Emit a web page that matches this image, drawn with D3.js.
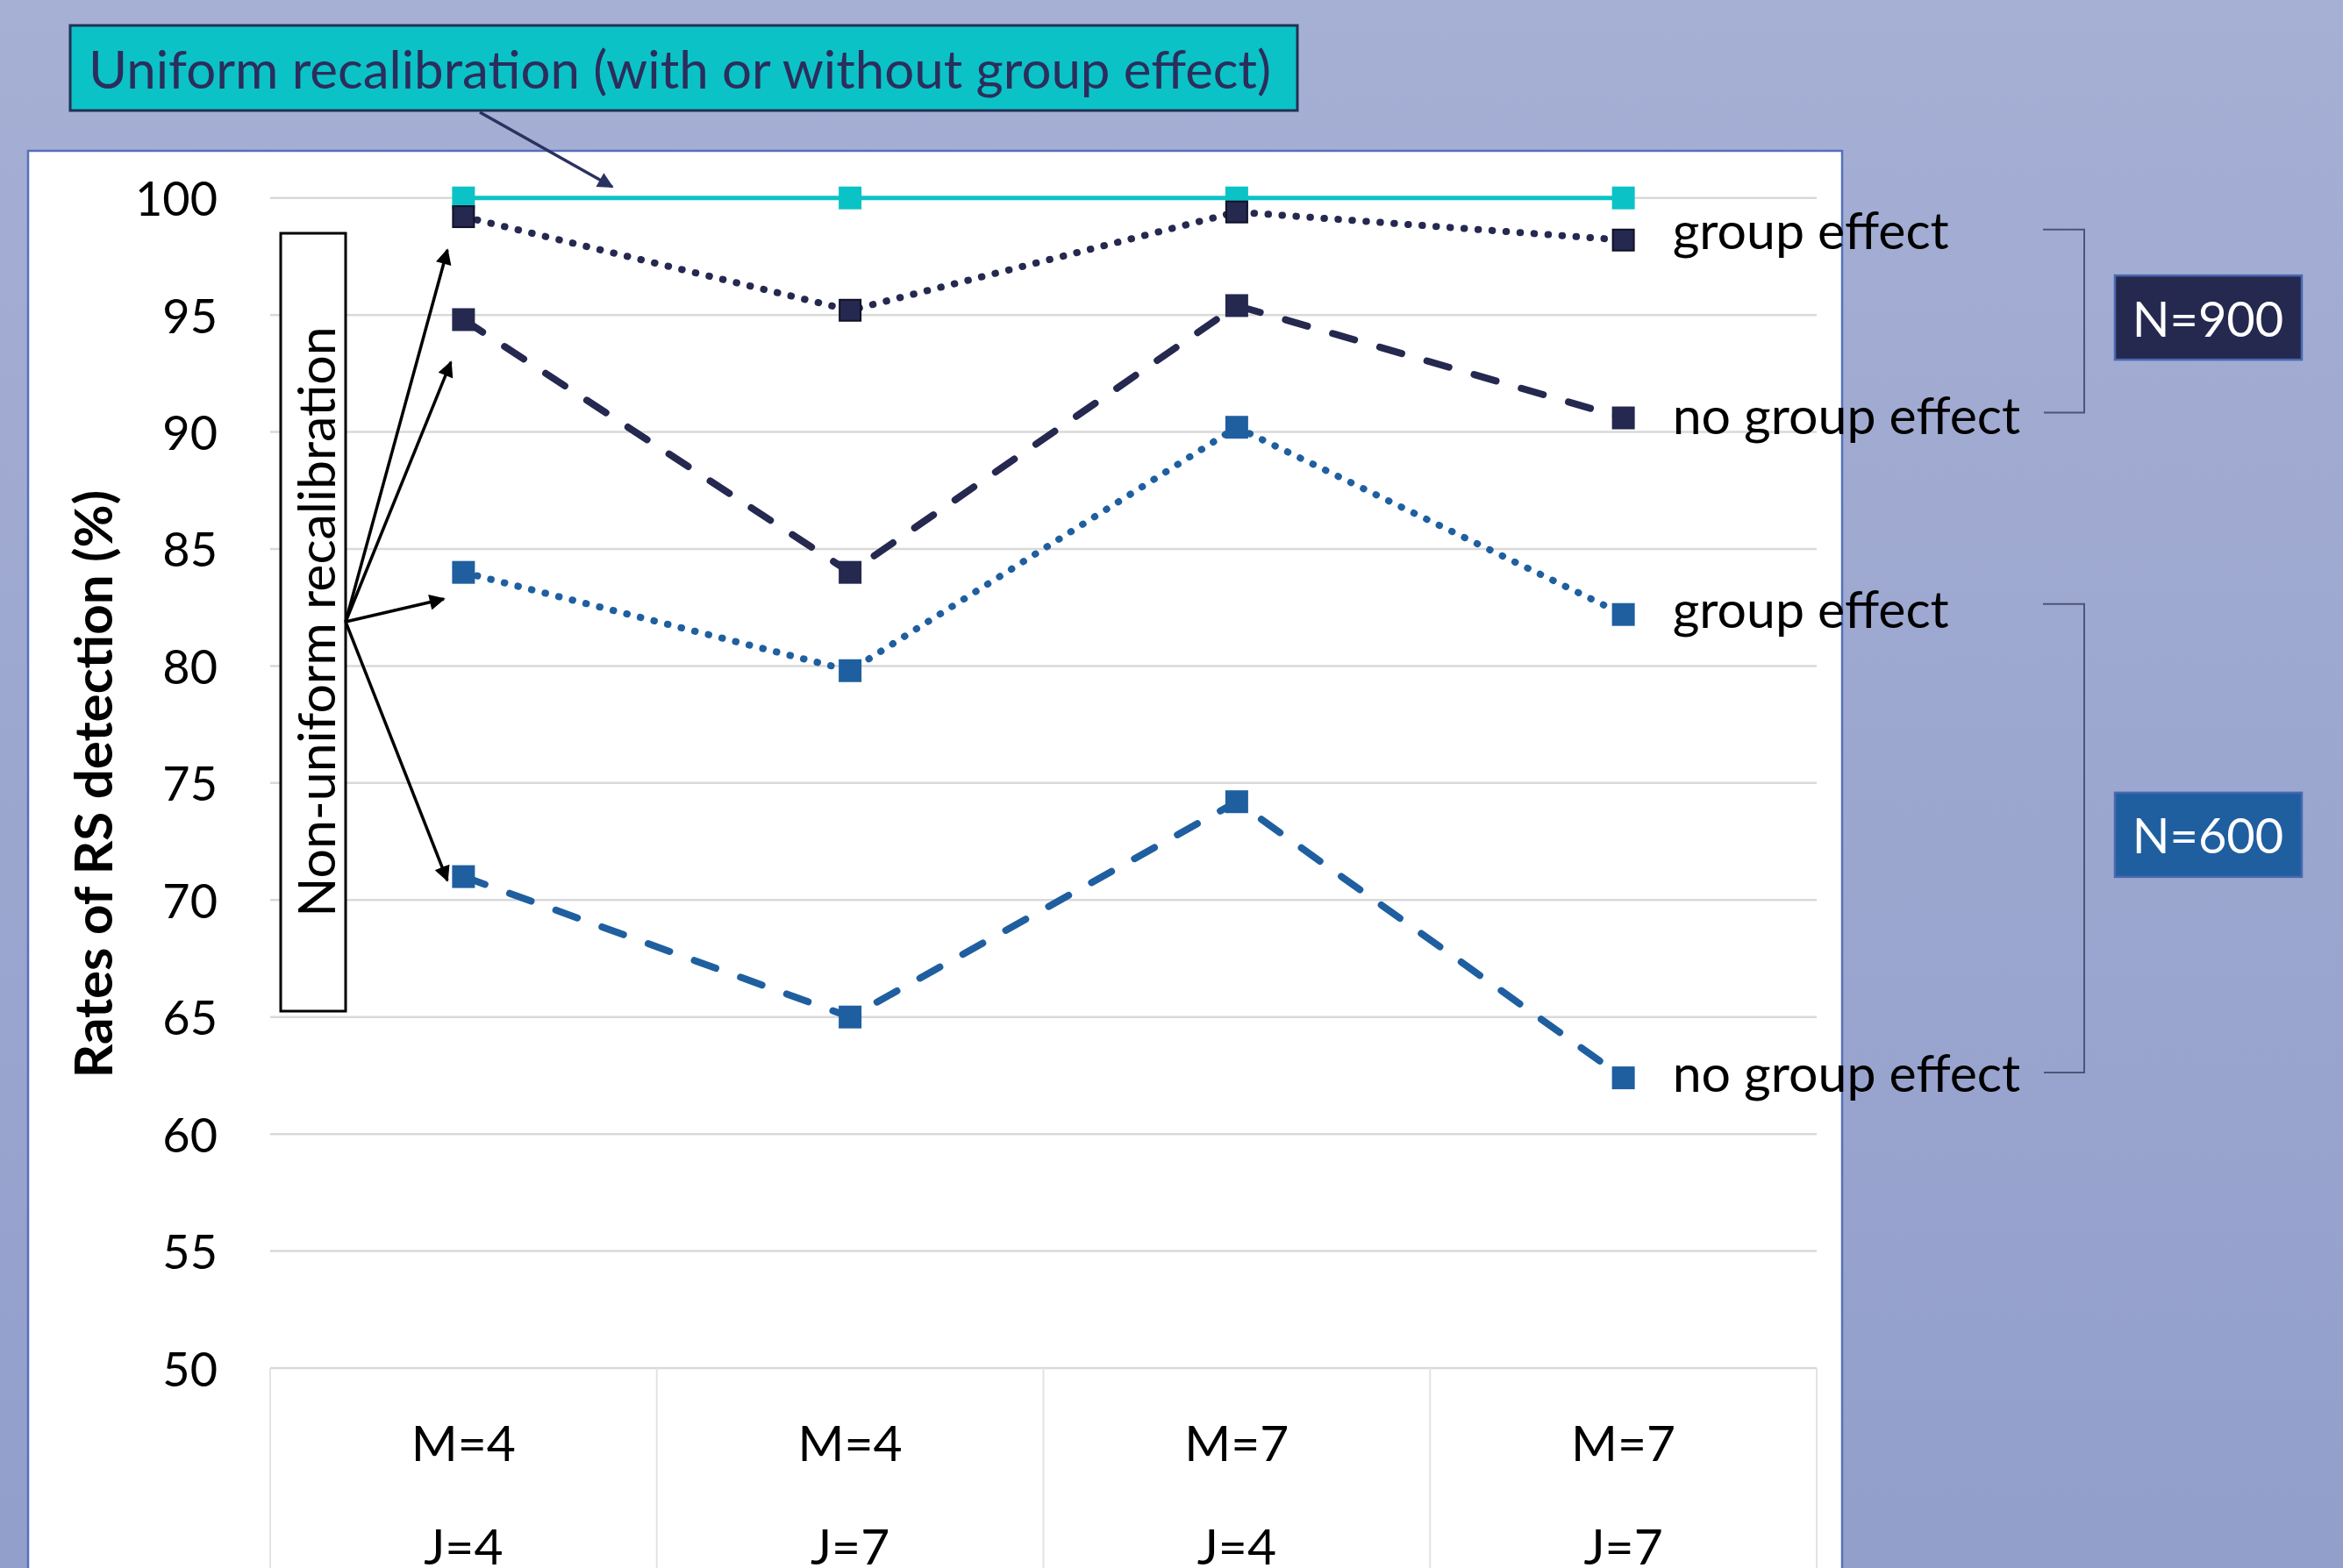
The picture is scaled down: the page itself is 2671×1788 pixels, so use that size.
<!DOCTYPE html>
<html lang="en">
  <head>
    <meta charset="utf-8">
    <title>Rates of RS detection</title>
    <script type="text/javascript" src="https://d3js.org/d3.v7.min.js"></script>
    <style>
      body {
        margin: 0;
        font-family: 'Lato', 'Open Sans', sans-serif;
      }
      .grid-line {
        stroke: #d9d9d9;
        stroke-width: 2.5;
      }
      .cat-line {
        stroke: #e3e3e3;
        stroke-width: 2;
      }
      .tick-label,
      .cat-label,
      .series-label {
        fill: #000000;
      }
    </style>
  </head>
  <body>
    <div id="chart"></div>
    <script type="text/javascript">

      // data
      var catM = ['M=4', 'M=4', 'M=7', 'M=7'];
      var catJ = ['J=4', 'J=7', 'J=4', 'J=7'];
      var yTicks = [50, 55, 60, 65, 70, 75, 80, 85, 90, 95, 100];

      var uniform     = [100, 100, 100, 100];
      var n900Group   = [99.2, 95.2, 99.4, 98.2];
      var n900NoGroup = [94.8, 84.0, 95.4, 90.6];
      var n600Group   = [84.0, 79.8, 90.2, 82.2];
      var n600NoGroup = [71.0, 65.0, 74.2, 62.4];

      var seriesLabels = ['', 'group effect', 'no group effect', 'group effect', 'no group effect'];

      var w = 2671;
      var h = 1788;

      var navy = '#25284f';
      var blue = '#1f5fa0';
      var cyan = '#0bc3c7';

      var svg = d3.select('#chart')
        .append('svg')
          .attr('width', w)
          .attr('height', h);

      var defs = svg.append('defs');

      // slide background gradient
      var grad = defs.append('linearGradient')
        .attr('id', 'bg-grad')
        .attr('x1', 0).attr('y1', 0)
        .attr('x2', 0).attr('y2', 1);
      grad.append('stop').attr('offset', '0%').attr('stop-color', '#a6afd4');
      grad.append('stop').attr('offset', '100%').attr('stop-color', '#929fcb');

      // arrowheads
      function arrowHead(id, color) {
        defs.append('marker')
          .attr('id', id)
          .attr('viewBox', '0 0 10 10')
          .attr('refX', 9)
          .attr('refY', 5)
          .attr('markerUnits', 'userSpaceOnUse')
          .attr('markerWidth', 22)
          .attr('markerHeight', 18)
          .attr('orient', 'auto')
          .append('path')
            .attr('d', 'M0,0 L10,5 L0,10 Z')
            .attr('fill', color);
      }
      arrowHead('arrow-black', '#000000');
      arrowHead('arrow-navy', '#2a3260');

      svg.append('rect')
        .attr('width', w)
        .attr('height', h)
        .attr('fill', 'url(#bg-grad)');

      // white chart panel
      svg.append('rect')
        .attr('x', 32)
        .attr('y', 172)
        .attr('width', 2068)
        .attr('height', 1640)
        .attr('fill', '#ffffff')
        .attr('stroke', '#5571bb')
        .attr('stroke-width', 2.5);

      // scales
      var x = d3.scaleBand()
        .domain(d3.range(catM.length))
        .range([308, 2071]);

      var y = d3.scaleLinear()
        .domain([50, 100])
        .range([1560, 225.7]);

      function cx(i) { return x(i) + x.bandwidth() / 2; }

      // gridlines
      svg.append('g')
        .selectAll('line')
        .data(yTicks)
        .enter()
        .append('line')
          .attr('class', 'grid-line')
          .attr('x1', 308)
          .attr('x2', 2071)
          .attr('y1', function(d) { return y(d); })
          .attr('y2', function(d) { return y(d); });

      // y tick labels
      svg.append('g')
        .selectAll('text')
        .data(yTicks)
        .enter()
        .append('text')
          .attr('class', 'tick-label')
          .attr('x', 248)
          .attr('y', function(d) { return y(d); })
          .attr('text-anchor', 'end')
          .attr('dominant-baseline', 'central')
          .style('font-size', '54px')
          .text(function(d) { return d; });

      // category separators and labels
      var catEdges = d3.range(catM.length + 1);
      svg.append('g')
        .selectAll('line')
        .data(catEdges)
        .enter()
        .append('line')
          .attr('class', 'cat-line')
          .attr('x1', function(d) { return d < catM.length ? x(d) : x(d - 1) + x.bandwidth(); })
          .attr('x2', function(d) { return d < catM.length ? x(d) : x(d - 1) + x.bandwidth(); })
          .attr('y1', y(50))
          .attr('y2', h);

      var catG = svg.append('g');
      catG.selectAll('.cat-m')
        .data(catM)
        .enter()
        .append('text')
          .attr('class', 'cat-label cat-m')
          .attr('x', function(d, i) { return cx(i); })
          .attr('y', 1644)
          .attr('text-anchor', 'middle')
          .attr('dominant-baseline', 'central')
          .style('font-size', '57px')
          .text(function(d) { return d; });
      catG.selectAll('.cat-j')
        .data(catJ)
        .enter()
        .append('text')
          .attr('class', 'cat-label cat-j')
          .attr('x', function(d, i) { return cx(i); })
          .attr('y', 1762)
          .attr('text-anchor', 'middle')
          .attr('dominant-baseline', 'central')
          .style('font-size', '57px')
          .text(function(d) { return d; });

      // y axis title
      svg.append('text')
        .attr('transform', 'translate(128,894) rotate(-90)')
        .attr('text-anchor', 'middle')
        .style('font-size', '60px')
        .style('font-weight', 'bold')
        .text('Rates of RS detection (%)');

      // series (labelDy = vertical nudge of the end label)
      var series = [
        { name: 'uniform',     values: uniform,     color: cyan, dash: null,       stroke: cyan,      labelDy: 0 },
        { name: 'n900Group',   values: n900Group,   color: navy, dash: '0.5 15.5', stroke: '#111126', labelDy: -12 },
        { name: 'n900NoGroup', values: n900NoGroup, color: navy, dash: '26 30',    stroke: navy,      labelDy: -4 },
        { name: 'n600Group',   values: n600Group,   color: blue, dash: '0.5 15.5', stroke: blue,      labelDy: -7 },
        { name: 'n600NoGroup', values: n600NoGroup, color: blue, dash: '26 30',    stroke: blue,      labelDy: -7 }
      ];

      var line = d3.line()
        .x(function(d, i) { return cx(i); })
        .y(function(d) { return y(d); });

      var seriesG = svg.append('g');

      series.forEach(function(s, k) {
        seriesG.append('path')
          .datum(s.values)
          .attr('d', line)
          .attr('fill', 'none')
          .attr('stroke', s.color)
          .attr('stroke-width', s.dash ? 8 : 5)
          .attr('stroke-linecap', s.dash ? 'round' : 'butt')
          .attr('stroke-dasharray', s.dash);

        seriesG.selectAll('.marker-' + s.name)
          .data(s.values)
          .enter()
          .append('rect')
            .attr('class', 'marker-' + s.name)
            .attr('x', function(d, i) { return cx(i) - 12; })
            .attr('y', function(d) { return y(d) - 12; })
            .attr('width', 24)
            .attr('height', 24)
            .attr('fill', s.color)
            .attr('stroke', s.stroke)
            .attr('stroke-width', 2);

        if (seriesLabels[k]) {
          seriesG.append('text')
            .attr('class', 'series-label')
            .attr('x', cx(s.values.length - 1) + 56)
            .attr('y', y(s.values[s.values.length - 1]) + s.labelDy)
            .attr('dominant-baseline', 'central')
            .style('font-size', '59px')
            .text(seriesLabels[k]);
        }
      });

      // brackets and N boxes
      var groups = [
        { label: 'N=900', top: n900Group,  bottom: n900NoGroup, fill: navy },
        { label: 'N=600', top: n600Group,  bottom: n600NoGroup, fill: blue }
      ];

      groups.forEach(function(g) {
        var y1 = y(g.top[g.top.length - 1]) - 12;
        var y2 = y(g.bottom[g.bottom.length - 1]) - 6;
        svg.append('path')
          .attr('d', 'M2329,' + y1 + ' H2376 V' + y2 + ' H2330')
          .attr('fill', 'none')
          .attr('stroke', '#4b5577')
          .attr('stroke-width', 2);

        var mid = (y1 + y2) / 2 - 4;
        svg.append('rect')
          .attr('x', 2411)
          .attr('y', mid - 48)
          .attr('width', 213)
          .attr('height', 96)
          .attr('fill', g.fill)
          .attr('stroke', '#4a68b0')
          .attr('stroke-width', 2.5);
        svg.append('text')
          .attr('x', 2517)
          .attr('y', mid)
          .attr('text-anchor', 'middle')
          .attr('dominant-baseline', 'central')
          .attr('fill', '#ffffff')
          .style('font-size', '56px')
          .text(g.label);
      });

      // uniform recalibration callout
      svg.append('line')
        .attr('x1', 547).attr('y1', 128)
        .attr('x2', 698).attr('y2', 213)
        .attr('stroke', '#2a3260')
        .attr('stroke-width', 3.5)
        .attr('marker-end', 'url(#arrow-navy)');

      svg.append('rect')
        .attr('x', 80)
        .attr('y', 29)
        .attr('width', 1399)
        .attr('height', 97)
        .attr('fill', cyan)
        .attr('stroke', '#233056')
        .attr('stroke-width', 3);
      svg.append('text')
        .attr('x', 101)
        .attr('y', 78)
        .attr('dominant-baseline', 'central')
        .attr('fill', '#2b2e5c')
        .style('font-size', '60px')
        .text('Uniform recalibration (with or without group effect)');

      // non-uniform recalibration callout
      svg.append('rect')
        .attr('x', 320)
        .attr('y', 266)
        .attr('width', 74)
        .attr('height', 887)
        .attr('fill', '#ffffff')
        .attr('stroke', '#000000')
        .attr('stroke-width', 3);
      svg.append('text')
        .attr('transform', 'translate(359,709) rotate(-90)')
        .attr('text-anchor', 'middle')
        .attr('dominant-baseline', 'central')
        .style('font-size', '59px')
        .text('Non-uniform recalibration');

      var arrowTargets = [[510, 285], [514, 413], [506, 683], [510, 1004]];
      svg.append('g')
        .selectAll('line')
        .data(arrowTargets)
        .enter()
        .append('line')
          .attr('x1', 394)
          .attr('y1', 709)
          .attr('x2', function(d) { return d[0]; })
          .attr('y2', function(d) { return d[1]; })
          .attr('stroke', '#000000')
          .attr('stroke-width', 3.5)
          .attr('marker-end', 'url(#arrow-black)');

    </script>
  </body>
</html>
